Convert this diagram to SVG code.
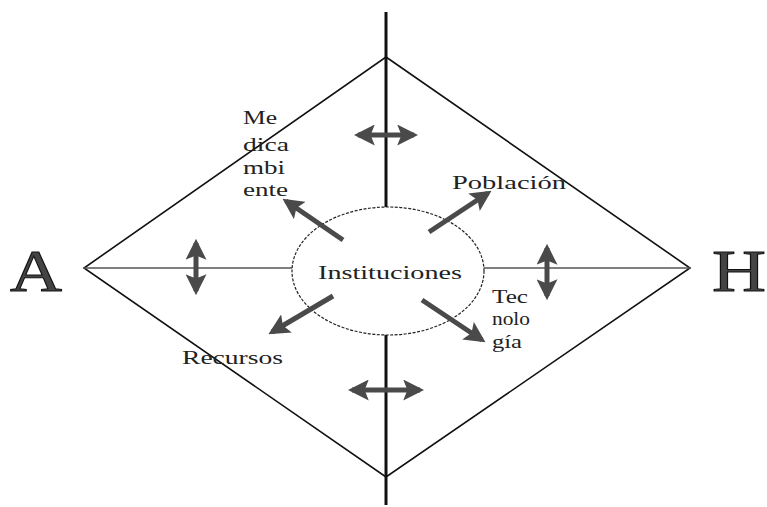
<svg xmlns="http://www.w3.org/2000/svg" width="767" height="507" viewBox="0 0 767 507">
<defs>
<style>
.ln{stroke:#111;fill:none}
.arr{stroke:#4a4a4a;stroke-width:5;fill:none}
.t{font-family:"Liberation Serif","DejaVu Serif",serif;fill:#222;font-size:19px}
.big{font-family:"Liberation Serif","DejaVu Serif",serif;fill:#444;stroke:#111;stroke-width:1}
</style>
<marker id="ah" viewBox="0 0 10 10" refX="8" refY="5" markerWidth="4.2" markerHeight="4.2" orient="auto-start-reverse" markerUnits="strokeWidth">
<path d="M0,0 L10,5 L0,10 L2,5 Z" fill="#4a4a4a"/>
</marker>
</defs>
<rect width="767" height="507" fill="#fff"/>
<g id="connectors">
<line class="ln" x1="386" y1="12" x2="386" y2="505" stroke-width="3"/>
<polygon class="ln" points="386,57 690,268 386,477 84,268" stroke-width="1.6"/>
<line x1="84" y1="268" x2="690" y2="268" stroke="#555" stroke-width="1.3"/>
</g>
<g id="instituciones">
<ellipse cx="388" cy="271" rx="96" ry="64" fill="#fff" stroke="#222" stroke-width="1.2" stroke-dasharray="3,1.5"/>
<text class="t" x="318" y="279" textLength="144" lengthAdjust="spacingAndGlyphs">Instituciones</text>
</g>
<g id="arrows">
<line class="arr" x1="343" y1="240" x2="286" y2="201" marker-end="url(#ah)"/>
<line class="arr" x1="429" y1="232" x2="488" y2="193" marker-end="url(#ah)"/>
<line class="arr" x1="333" y1="296" x2="272" y2="332" marker-end="url(#ah)"/>
<line class="arr" x1="422" y1="300" x2="482" y2="340" marker-end="url(#ah)"/>
<line class="arr" x1="358" y1="135" x2="414" y2="135" marker-start="url(#ah)" marker-end="url(#ah)"/>
<line class="arr" x1="352" y1="390" x2="420" y2="390" marker-start="url(#ah)" marker-end="url(#ah)"/>
<line class="arr" x1="196" y1="243" x2="196" y2="291" marker-start="url(#ah)" marker-end="url(#ah)"/>
<line class="arr" x1="547" y1="248" x2="547" y2="296" marker-start="url(#ah)" marker-end="url(#ah)"/>
</g>
<g id="node-a"><text class="big" x="10" y="291" font-size="60" textLength="52" lengthAdjust="spacingAndGlyphs">A</text></g>
<g id="node-h"><text class="big" x="712" y="291" font-size="60" textLength="54" lengthAdjust="spacingAndGlyphs">H</text></g>
<g id="medioambiente">
<text class="t"><tspan x="243" y="124" textLength="34" lengthAdjust="spacingAndGlyphs">Me</tspan><tspan x="243" y="151" textLength="46" lengthAdjust="spacingAndGlyphs">dica</tspan><tspan x="243" y="174" textLength="42" lengthAdjust="spacingAndGlyphs">mbi</tspan><tspan x="243" y="196" textLength="45" lengthAdjust="spacingAndGlyphs">ente</tspan></text>
</g>
<g id="poblacion"><text class="t" x="452" y="189" textLength="114" lengthAdjust="spacingAndGlyphs">Población</text></g>
<g id="tecnologia">
<text class="t"><tspan x="492" y="303" textLength="36" lengthAdjust="spacingAndGlyphs">Tec</tspan><tspan x="492" y="325" textLength="38" lengthAdjust="spacingAndGlyphs">nolo</tspan><tspan x="492" y="348" textLength="30" lengthAdjust="spacingAndGlyphs">gía</tspan></text>
</g>
<g id="recursos"><text class="t" x="182" y="364" textLength="101" lengthAdjust="spacingAndGlyphs">Recursos</text></g>
</svg>
